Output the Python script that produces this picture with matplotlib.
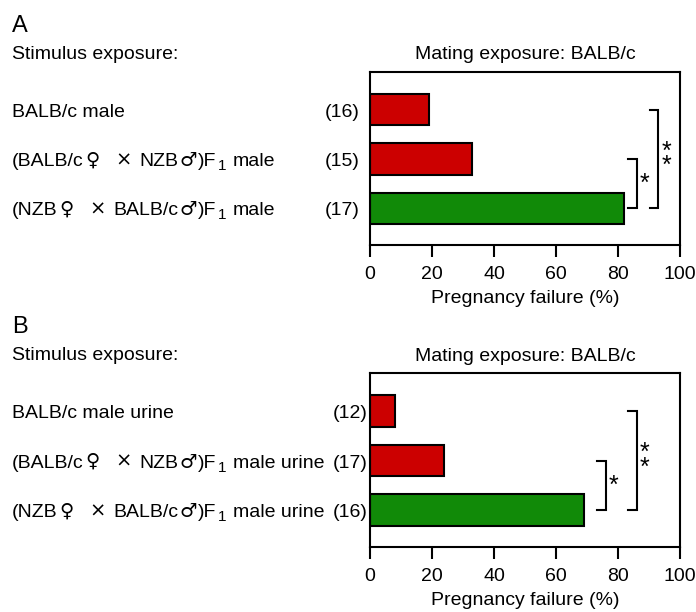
import matplotlib
matplotlib.use("Agg")
import matplotlib.pyplot as plt
import matplotlib.transforms as mtransforms

plt.rcParams['font.family'] = ['Liberation Sans', 'DejaVu Sans']
plt.rcParams['font.size'] = 14

# data
labels_a = ["BALB/c male",
            "(BALB/c\u2640 \u00d7 NZB\u2642)F\u2081 male",
            "(NZB\u2640 \u00d7 BALB/c\u2642)F\u2081 male"]
counts_a = ["(16)", "(15)", "(17)"]
values_a = [19, 33, 82]

labels_b = ["BALB/c male urine",
            "(BALB/c\u2640 \u00d7 NZB\u2642)F\u2081 male urine",
            "(NZB\u2640 \u00d7 BALB/c\u2642)F\u2081 male urine"]
counts_b = ["(12)", "(17)", "(16)"]
values_b = [8, 24, 69]

bar_colors = ["#cc0000", "#cc0000", "#118a08"]
xticks = [0, 20, 40, 60, 80, 100]

# brackets: (bar from, bar to, x, text)
brackets_a = [(1, 2, 86, "*"), (0, 2, 93, "*\n*")]
brackets_b = [(1, 2, 76, "*"), (0, 2, 86, "*\n*")]

fig = plt.figure(figsize=(6.96, 6.12), dpi=100)
renderer = fig.canvas.get_renderer()


def split_label(s):
    # break a label into runs of plain text, sex/cross symbols and subscript 1
    runs, cur = [], ""
    for ch in s:
        if ch in "\u2640\u2642\u00d7\u2081":
            if cur:
                runs.append(("n", cur))
                cur = ""
            runs.append(("sub", "1") if ch == "\u2081" else ("sym", ch))
        else:
            cur += ch
    if cur:
        runs.append(("n", cur))
    return runs


def rich_label(ax, x, y, s):
    base = mtransforms.blended_transform_factory(fig.transFigure, ax.transData)
    dx = 0.0
    for kind, txt in split_label(s):
        lead = len(txt) - len(txt.lstrip(" "))
        dx += lead * 5.5
        txt = txt.strip(" ")
        kw = dict(fontsize=14, family=['Liberation Sans'])
        dy = -7
        pad = 1.5
        if kind == "sym":
            kw = dict(fontsize=14, family=['DejaVu Sans'])
            if txt == "\u2640":
                pad = 9
                dy = -6.5
            elif txt == "\u00d7":
                pad = 2
                dy = -6.5
            else:
                pad = 1
        elif kind == "sub":
            kw = dict(fontsize=11, family=['Liberation Sans'])
            dy = -11
            pad = 1
        tr = mtransforms.offset_copy(base, fig=fig, x=dx, y=dy, units='dots')
        t = ax.text(x, y, txt, transform=tr, ha='left', va='baseline', **kw)
        dx += t.get_window_extent(renderer).width + pad


def panel(rect, letter, labels, counts, values, brackets, count_x, top_y, sub_y):
    ax = fig.add_axes(rect)
    pos = list(range(len(values)))
    ax.barh(pos, values, height=0.64, color=bar_colors, edgecolor='black', linewidth=1.5)
    ax.set_xlim(0, 100)
    ax.set_ylim(2.74, -0.76)
    ax.set_xticks(xticks)
    ax.set_yticks([])
    for s in ax.spines.values():
        s.set_linewidth(1.5)
    ax.tick_params(axis='x', direction='out', length=8.5, width=1.5, labelsize=14, pad=6.5)
    ax.set_xlabel("Pregnancy failure (%)", fontsize=14, labelpad=5)
    ax.set_title("Mating exposure: BALB/c", fontsize=14, pad=9)

    trans = mtransforms.blended_transform_factory(fig.transFigure, ax.transData)
    for p, lab, c in zip(pos, labels, counts):
        rich_label(ax, 0.017, p, lab)
        tr = mtransforms.offset_copy(trans, fig=fig, x=0, y=-7, units='dots')
        ax.text(count_x, p, c, transform=tr, ha='right', va='baseline', fontsize=14)

    for y0, y1, x, txt in brackets:
        ax.plot([x - 2.7, x, x, x - 2.7], [y0, y0, y1, y1], color='black', lw=1.5,
                solid_joinstyle='miter', clip_on=False)
        ax.text(x + 1.0, (y0 + y1) / 2, txt, ha='left', va='center', fontsize=18,
                linespacing=0.5, clip_on=False)

    fig.text(0.017, top_y, letter, ha='left', va='center', fontsize=17)
    fig.text(0.017, sub_y, "Stimulus exposure:", ha='left', va='center', fontsize=14)
    return ax


panel([0.5316, 0.5997, 0.4454, 0.2827], "A", labels_a, counts_a, values_a,
      brackets_a, 0.517, 0.958, 0.911)
panel([0.5316, 0.1062, 0.4454, 0.2843], "B", labels_b, counts_b, values_b,
      brackets_b, 0.528, 0.465, 0.419)

fig.savefig("out.png", dpi=100)
